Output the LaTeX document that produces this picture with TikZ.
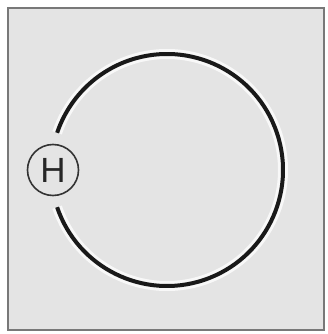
\documentclass[tikz,border=0pt]{standalone}
\usepackage{fontspec}
\setmainfont{Liberation Sans}
\usetikzlibrary{calc}
\definecolor{bg}{RGB}{228,228,228}
\definecolor{frame}{RGB}{120,120,120}
\tikzset{
  panel/.style={fill=bg, draw=frame, line width=2.2pt},
  halo/.style={draw=white, line width=10pt, opacity=0.75},
  ring/.style={draw=black!90, line width=4pt},
  atom/.style={circle, draw=black!80, line width=1.6pt, fill=bg, minimum size=51pt, inner sep=0pt, font=\fontsize{35}{35}\selectfont, text=black!85}
}
\begin{document}
\begin{tikzpicture}[x=1pt,y=1pt]
\useasboundingbox (0,0) rectangle (328,334);
\path[panel] (8,326) rectangle (324,4);
\coordinate (c) at (167,164);
\draw[halo] ($(c)+(-161.3:116)$) arc[start angle=-161.3, end angle=161.3, radius=116];
\draw[ring] ($(c)+(-161.3:116)$) arc[start angle=-161.3, end angle=161.3, radius=116];
\node[atom] (h) at (53,164) {H};
\end{tikzpicture}
\end{document}
